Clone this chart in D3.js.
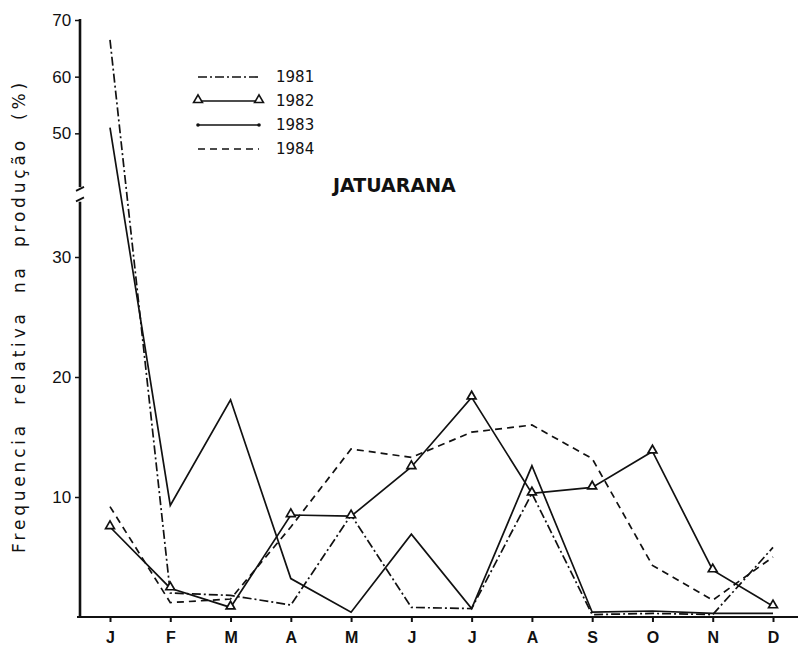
<!DOCTYPE html>
<html>
<head>
<meta charset="utf-8">
<script src="https://cdn.jsdelivr.net/npm/d3@7/dist/d3.min.js"></script>
<style>
  body { margin: 0; background: #fff; }
  svg { font-family: "DejaVu Sans", sans-serif; }
  .tick text { fill: #111; }
</style>
</head>
<body>
<svg id="chart" width="798" height="648"></svg>
<script>
const months = ["J", "F", "M", "A", "M", "J", "J", "A", "S", "O", "N", "D"];
const yTicks = [10, 20, 30, 50, 60, 70];
const years = ["1981", "1982", "1983", "1984"];

const v1981 = [66.5, 2.0, 1.8, 1.0, 8.5, 0.8, 0.7, 10.3, 0.2, 0.3, 0.2, 5.8];
const v1982 = [7.5, 2.4, 0.8, 8.5, 8.4, 12.5, 18.3, 10.3, 10.8, 13.8, 3.9, 0.9];
const v1983 = [51.0, 9.3, 18.1, 3.2, 0.4, 6.9, 0.7, 12.6, 0.4, 0.5, 0.3, 0.3];
const v1984 = [9.2, 1.2, 1.5, 7.5, 14.0, 13.3, 15.4, 16.0, 13.2, 4.3, 1.4, 5.0];

const series = [
    { name: years[0], values: v1981, dash: "9,3,2,3", marker: null },
    { name: years[1], values: v1982, dash: null, marker: "triangle" },
    { name: years[2], values: v1983, dash: null, marker: "dot" },
    { name: years[3], values: v1984, dash: "7,5", marker: null }
];

const svg = d3.select("#chart");

const x = d3.scalePoint()
    .domain(d3.range(months.length))
    .range([110, 773]);

// eixo quebrado: 0-35 normal, 40-70 comprimido
const y = d3.scaleLinear()
    .domain([0, 35, 40, 70])
    .range([617, 197, 190, 20]);

/*eixo x*/
const xAxis = svg.append("g")
    .attr("transform", "translate(0, 617)")
    .call(d3.axisBottom(x).tickSize(5).tickFormat((i) => months[i]));
xAxis.select(".domain").remove();
xAxis.selectAll(".tick line").attr("stroke", "#111").attr("stroke-width", 2);
xAxis.selectAll(".tick text")
    .attr("font-size", 16).attr("font-weight", "bold").attr("dy", "1.1em");
svg.append("line")
    .attr("x1", 77).attr("x2", 798)
    .attr("y1", 617).attr("y2", 617)
    .attr("stroke", "#111").attr("stroke-width", 2.2);

/*eixo y*/
const yAxis = svg.append("g")
    .attr("transform", "translate(80, 0)")
    .call(d3.axisLeft(y).tickValues(yTicks).tickSize(5).tickFormat(d3.format("d")));
yAxis.select(".domain").remove();
yAxis.selectAll(".tick line").attr("stroke", "#111").attr("stroke-width", 1.5);
yAxis.selectAll(".tick text").attr("font-size", 17).attr("dx", "-0.05em");

svg.append("line")
    .attr("x1", 80).attr("x2", 80)
    .attr("y1", y(0) + 1).attr("y2", y(34.6))
    .attr("stroke", "#111").attr("stroke-width", 2.6);
svg.append("line")
    .attr("x1", 80).attr("x2", 80)
    .attr("y1", y(40.5)).attr("y2", y(70) - 1)
    .attr("stroke", "#111").attr("stroke-width", 2.6);
[y(34.8), y(40.2)].forEach((yy) => {
    svg.append("line")
        .attr("x1", 76).attr("x2", 84)
        .attr("y1", yy + 2).attr("y2", yy - 2)
        .attr("stroke", "#111").attr("stroke-width", 1.8);
});

svg.append("text")
    .attr("transform", "translate(25, 316) rotate(-90)")
    .attr("text-anchor", "middle")
    .attr("font-size", 17)
    .attr("letter-spacing", 3.8)
    .attr("word-spacing", 8)
    .attr("fill", "#111")
    .text("Frequencia relativa na produção (%)");

/*linhas*/
const line = d3.line()
    .x((d, i) => x(i))
    .y((d) => y(d));

const tri = d3.symbol().type(d3.symbolTriangle).size(34);

series.forEach((s) => {
    svg.append("path")
        .datum(s.values)
        .attr("fill", "none")
        .attr("stroke", "#111")
        .attr("stroke-width", 1.7)
        .attr("stroke-dasharray", s.dash)
        .attr("d", line);

    if (s.marker === "triangle") {
        svg.selectAll(null)
            .data(s.values)
            .enter()
            .append("path")
            .attr("d", tri)
            .attr("transform", (d, i) => `translate(${x(i)}, ${y(d) - 1})`)
            .attr("fill", "#fff")
            .attr("stroke", "#111")
            .attr("stroke-width", 1.7);
    }
});

/*legenda*/
const legend = svg.append("g").attr("transform", "translate(198, 77)");
series.forEach((s, k) => {
    const g = legend.append("g").attr("transform", `translate(0, ${k * 24})`);
    g.append("line")
        .attr("x1", 0).attr("x2", 61)
        .attr("stroke", "#111")
        .attr("stroke-width", 1.6)
        .attr("stroke-dasharray", s.dash);
    if (s.marker === "triangle") {
        [0, 61].forEach((px) => {
            g.append("path").attr("d", tri)
                .attr("transform", `translate(${px}, -1)`)
                .attr("fill", "#fff").attr("stroke", "#111").attr("stroke-width", 1.6);
        });
    }
    if (s.marker === "dot") {
        [0, 61].forEach((px) => {
            g.append("circle").attr("cx", px).attr("r", 1.8).attr("fill", "#111");
        });
    }
    g.append("text")
        .attr("x", 78).attr("y", 5)
        .attr("font-size", 15)
        .attr("fill", "#111")
        .text(s.name);
});

svg.append("text")
    .attr("x", 333).attr("y", 192)
    .attr("font-size", 19)
    .attr("font-weight", "bold")
    .attr("fill", "#111")
    .text("JATUARANA");
</script>
</body>
</html>
